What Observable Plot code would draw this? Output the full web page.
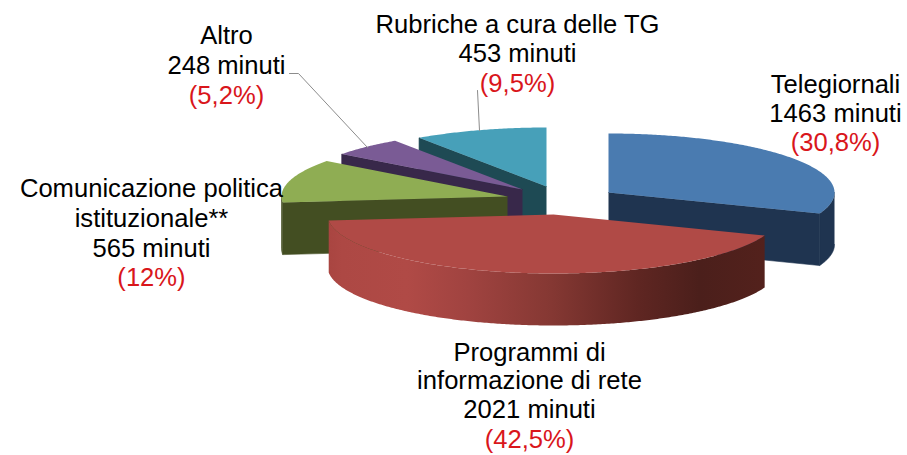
<!DOCTYPE html>
<html lang="it">
<head>
<meta charset="utf-8">
<script src="https://cdn.jsdelivr.net/npm/d3@7"></script>
<script src="https://cdn.jsdelivr.net/npm/@observablehq/plot@0.6"></script>
<style>
  html, body { margin: 0; padding: 0; background: #fff; }
  svg { display: block; }
</style>
</head>
<body>
<div id="chart"></div>
<script>
// ---- values (clockwise from 12 o'clock) ----
const categories = ["Telegiornali", "Programmi di informazione di rete", "Comunicazione politica istituzionale**", "Altro", "Rubriche a cura delle TG"];
const minutes = [1463, 2021, 565, 248, 453];
const shareLabels = ["(30,8%)", "(42,5%)", "(12%)", "(5,2%)", "(9,5%)"];
const labelLines = [
  ["Telegiornali", "1463 minuti"],
  ["Programmi di", "informazione di rete", "2021 minuti"],
  ["Comunicazione politica", "istituzionale**", "565 minuti"],
  ["Altro", "248 minuti"],
  ["Rubriche a cura delle TG", "453 minuti"]
];

// ---- drawing styles and layout ----
const topColors  = ["#4a7bb0", "#b04a46", "#8fad53", "#7a5b95", "#47a0b9"];
const wallColors = ["#1f3450", "#4b1f1b", "#434e22", "#38284a", "#1e4a54"];
const apexX = [608, 553, 507, 522, 546];   // exploded slice apex
const apexY = [192, 214, 196, 189, 186];
const radiusX = 226, radiusY = 59, depth = 52;
const labelX = [835, 529, 151, 226, 517];
const labelY = [[84, 113, 142], [352, 380, 409, 439], [188, 218, 248, 277], [35, 65, 95], [24, 53, 83]];
const paintOrder = [4, 3, 2, 0, 1];
const leaderRows = [
  {id: "altro", x: 289, y: 73}, {id: "altro", x: 298, y: 73}, {id: "altro", x: 367, y: 147},
  {id: "rubriche", x: 477, y: 90}, {id: "rubriche", x: 479, y: 130}
];

// ---- pie geometry from the values ----
const arcs = d3.pie().sort(null).startAngle(0).endAngle(2 * Math.PI)(minutes);
const rimAt = (i, t, dy = 0) => ({
  x: apexX[i] + radiusX * Math.sin(t),
  y: apexY[i] - radiusY * Math.cos(t) + dy
});
const sweep = (i, a, b, dy = 0) => {
  const n = Math.max(2, Math.ceil(Math.abs(b - a) / 0.01));
  return d3.range(n + 1).map(k => rimAt(i, a + (b - a) * k / n, dy));
};
const shape = (pts, fill, edge = "none") => Plot.line(pts, {x: "x", y: "y", fill, stroke: edge, strokeWidth: 0.6, curve: "linear"});

const gradient = () => {
  const defs = d3.create("svg:defs");
  const g = defs.append("linearGradient").attr("id", "redRim");
  [[0, "#a94541"], [0.03, "#ad4844"], [0.18, "#b04a46"], [0.32, "#a04340"], [0.51, "#853833"],
   [0.71, "#5f2622"], [0.85, "#4b1f1b"], [1, "#53211c"]].forEach(([o, c]) =>
    g.append("stop").attr("offset", o).attr("stop-color", c));
  return defs.node();
};

const sliceMarks = paintOrder.flatMap(i => {
  const {startAngle: a, endAngle: b} = arcs[i];
  const apex = {x: apexX[i], y: apexY[i]};
  const low = {x: apexX[i], y: apexY[i] + depth};
  const marks = [];
  // radial walls that face the viewer
  if (a > Math.PI) marks.push(shape([apex, rimAt(i, a), rimAt(i, a, depth), low], wallColors[i], wallColors[i]));
  if (b < Math.PI) marks.push(shape([apex, rimAt(i, b), rimAt(i, b, depth), low], wallColors[i], wallColors[i]));
  // outer rim on the near half of the ellipse
  const r0 = Math.max(a, Math.PI / 2), r1 = Math.min(b, 3 * Math.PI / 2);
  if (r1 > r0) {
    const rim = [...sweep(i, r0, r1), ...sweep(i, r1, r0, depth)];
    const isRed = categories[i].startsWith("Programmi");
    marks.push(shape(rim, isRed ? "url(#redRim)" : wallColors[i], isRed ? "none" : wallColors[i]));
  }
  // top face
  marks.push(shape([apex, ...sweep(i, a, b)], topColors[i]));
  return marks;
});

// ---- labels ----
const blackRows = labelLines.flatMap((lines, i) =>
  lines.map((text, k) => ({text, x: labelX[i], y: labelY[i][k]})));
const redRows = shareLabels.map((text, i) =>
  ({text, x: labelX[i], y: labelY[i][labelLines[i].length]}));

const textStyle = {x: "x", y: "y", text: "text", fontSize: 25.6, fontFamily: "Liberation Sans, Arial, sans-serif", textAnchor: "middle"};

const chart = Plot.plot({
  width: 907,
  height: 455,
  margin: 0,
  x: {domain: [0, 907], range: [0, 907], axis: null},
  y: {domain: [0, 455], range: [0, 455], axis: null},
  style: {background: "#fff"},
  marks: [
    gradient,
    ...sliceMarks,
    Plot.line(leaderRows, {x: "x", y: "y", z: "id", stroke: "#8c8c8c", strokeWidth: 1}),
    Plot.text(blackRows, {...textStyle, fill: "#000"}),
    Plot.text(redRows, {...textStyle, fill: "#d9161b"})
  ]
});
document.getElementById("chart").append(chart);
</script>
</body>
</html>
